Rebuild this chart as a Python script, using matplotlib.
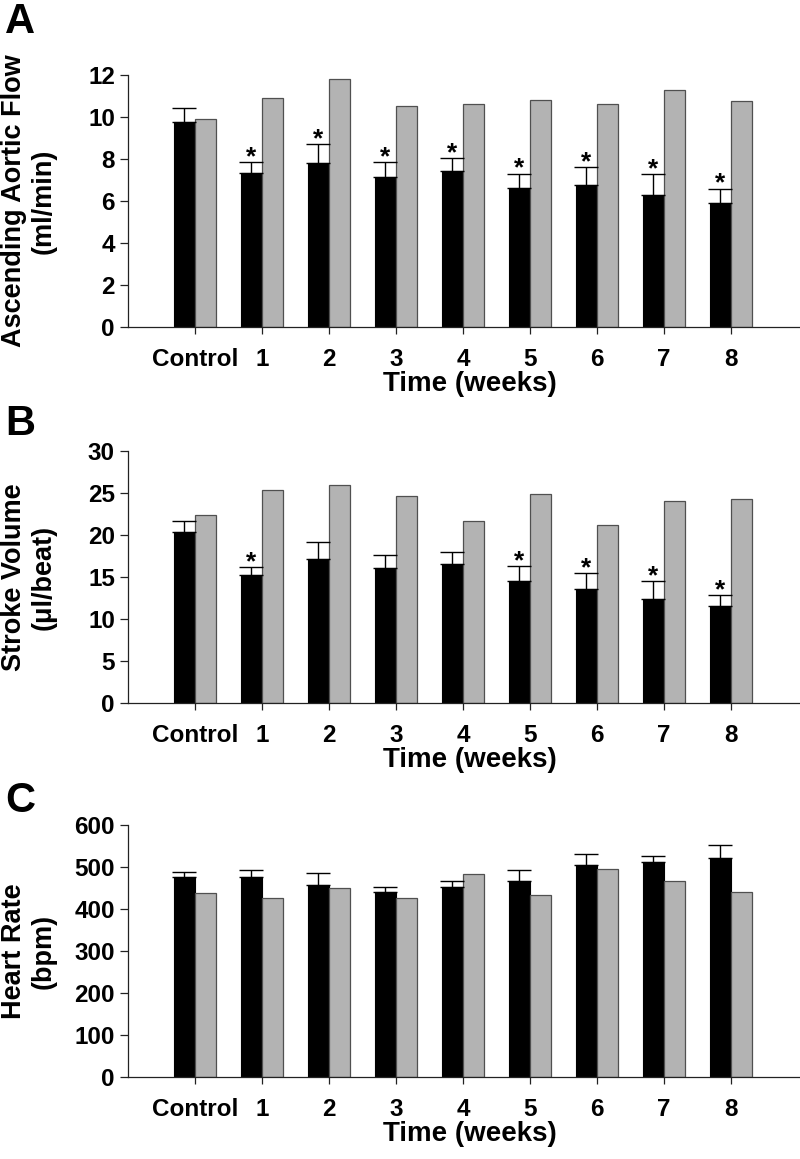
import numpy as np
import matplotlib
matplotlib.use("Agg")
import matplotlib.pyplot as plt

plt.rcParams['font.family'] = ['Liberation Sans', 'DejaVu Sans']
plt.rcParams['font.weight'] = 'bold'

categories = ['Control', '1', '2', '3', '4', '5', '6', '7', '8']

# panel A - ascending aortic flow (ml/min)
flow_black = [9.78, 7.32, 7.79, 7.14, 7.43, 6.63, 6.75, 6.27, 5.89]
flow_black_err = [0.66, 0.52, 0.91, 0.73, 0.63, 0.67, 0.87, 1.02, 0.70]
flow_grey = [9.92, 10.89, 11.81, 10.54, 10.60, 10.81, 10.62, 11.29, 10.78]
flow_stars = [False, True, True, True, True, True, True, True, True]

# panel B - stroke volume (ul/beat)
sv_black = [20.37, 15.26, 17.16, 16.05, 16.60, 14.54, 13.63, 12.40, 11.53]
sv_black_err = [1.38, 0.99, 2.02, 1.62, 1.47, 1.79, 1.86, 2.14, 1.38]
sv_grey = [22.39, 25.36, 26.04, 24.73, 21.76, 24.93, 21.28, 24.09, 24.29]
sv_stars = [False, True, False, False, False, True, True, True, True]

# panel C - heart rate (bpm)
hr_black = [478, 478, 457, 442, 453, 467, 505, 512, 521]
hr_black_err = [10, 16, 29, 10, 15, 27, 26, 15, 31]
hr_grey = [440, 428, 451, 426, 484, 433, 497, 467, 441]
hr_stars = [False] * 9

panels = [
    ('A', flow_black, flow_black_err, flow_grey, flow_stars, 12, 2,
     'Ascending Aortic Flow\n(ml/min)', 327),
    ('B', sv_black, sv_black_err, sv_grey, sv_stars, 30, 5,
     'Stroke Volume\n(\u03bcl/beat)', 703.3),
    ('C', hr_black, hr_black_err, hr_grey, hr_stars, 600, 100,
     'Heart Rate\n(bpm)', 1077.3),
]
letter_base = [33, 435, 812]

W, H = 800, 1159
fig = plt.figure(figsize=(W / 100, H / 100), dpi=100)

x = np.arange(len(categories))
w = 0.32

for k, (letter, blk, err, gry, stars, ymax, ystep, ylab, y0px) in enumerate(panels):
    ax = fig.add_axes([128 / W, 1 - y0px / H, 672 / W, 252 / H])
    ax.bar(x - w / 2, blk, w, color='black', edgecolor='black', linewidth=0.8, zorder=2)
    ax.bar(x + w / 2, gry, w, color='#b3b3b3', edgecolor='#505050', linewidth=0.9, zorder=2)
    ax.errorbar(x - w / 2, blk, yerr=[np.zeros(len(err)), err], fmt='none',
                ecolor='black', elinewidth=1.0, capsize=8.5, capthick=1.0, zorder=3)
    for i, s in enumerate(stars):
        if s:
            ax.annotate('*', (x[i] - w / 2, blk[i] + err[i]), xytext=(0, -1.5),
                        textcoords='offset points', ha='center', va='baseline',
                        fontsize=19, fontweight='bold')

    ax.set_xlim(-1, -1 + 672 / 67)
    ax.set_ylim(0, ymax)
    ax.set_yticks(np.arange(0, ymax + ystep / 2, ystep))
    ax.set_xticks(x)
    ax.set_xticklabels(categories)
    ax.spines['top'].set_visible(False)
    ax.spines['right'].set_visible(False)
    for sp in ['left', 'bottom']:
        ax.spines[sp].set_linewidth(0.9)
        ax.spines[sp].set_color('#222222')
    ax.tick_params(axis='y', length=5.8, width=0.9, pad=3.6, labelsize=17.5, color='#222222')
    ax.tick_params(axis='x', length=5, width=0.9, pad=10, labelsize=17.5, color='#222222')
    for lbl in ax.get_xticklabels() + ax.get_yticklabels():
        lbl.set_fontweight('bold')

    ax.set_xlabel('Time (weeks)', fontsize=20, fontweight='bold', labelpad=0)
    ax.set_ylabel(ylab, fontsize=19.5, fontweight='bold', linespacing=1.2)
    ax.yaxis.set_label_coords((29 - 128) / 672, 0.5)
    ax.yaxis.label.set_verticalalignment('center')
    ax.xaxis.label.set_position(((470 - 128) / 672, 0))

    fig.text(5 / W, 1 - letter_base[k] / H, letter, fontsize=30, fontweight='bold',
             ha='left', va='baseline')

fig.savefig('out.png', dpi=100)
